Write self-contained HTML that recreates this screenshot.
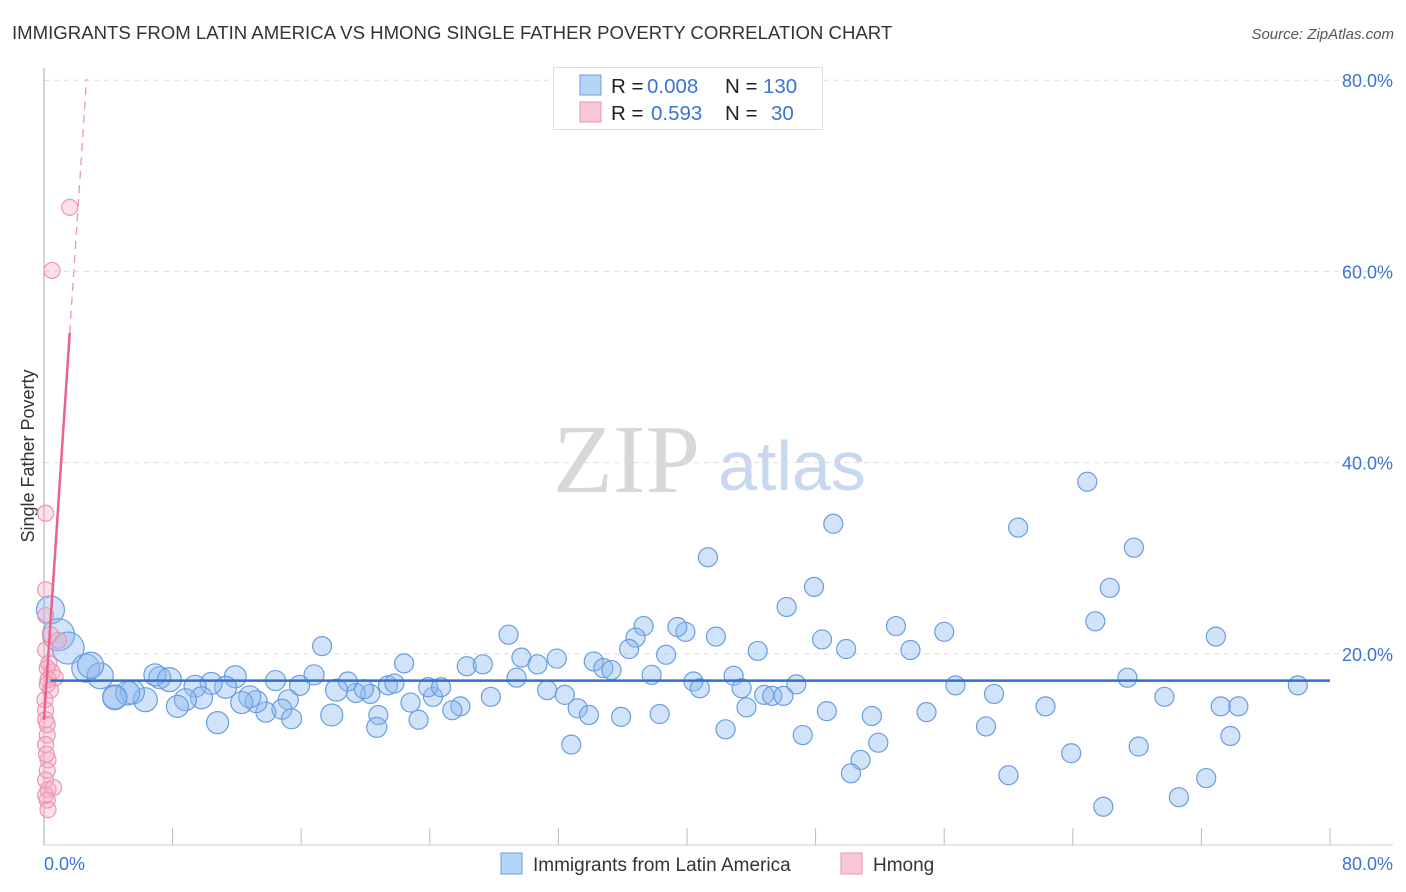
<!DOCTYPE html>
<html><head><meta charset="utf-8">
<style>
body{margin:0;background:#fff;width:1406px;height:892px;overflow:hidden;font-family:"Liberation Sans",sans-serif;}
svg{position:absolute;left:0;top:0}
</style></head>
<body>
<svg width="1406" height="892" viewBox="0 0 1406 892">
<text x="12" y="39" font-size="18.6" fill="#333">IMMIGRANTS FROM LATIN AMERICA VS HMONG SINGLE FATHER POVERTY CORRELATION CHART</text>
<text x="1394" y="39" font-size="15" fill="#555" font-style="italic" text-anchor="end">Source: ZipAtlas.com</text>
<g>
<text x="553" y="492" font-family="Liberation Serif,serif" font-size="98" fill="#d8d8d8">ZIP</text>
<text x="718" y="490" font-size="70" fill="#c8d8f0">atlas</text>
</g>
<g id="grid"></g>
<g id="axes"></g>
<text transform="translate(34,456) rotate(-90)" font-size="18" fill="#333" text-anchor="middle">Single Father Poverty</text>
<g id="pts"></g>
<g id="lines"></g>
<g>
<rect x="553.5" y="67.5" width="269" height="62" fill="#fff" stroke="#ddd"/>
<rect x="580" y="75" width="21" height="20" fill="#b8d4f5" stroke="#6a9de0"/>
<rect x="580" y="102" width="21" height="20" fill="#f9c8d8" stroke="#eb96b2"/>
<text x="611" y="93" font-size="20.5" fill="#222">R = <tspan x="647" fill="#3a74d6">0.008</tspan><tspan x="725">N = </tspan><tspan x="763" fill="#3a74d6">130</tspan></text>
<text x="611" y="120" font-size="20.5" fill="#222">R = <tspan x="651" fill="#3a74d6">0.593</tspan><tspan x="725">N = </tspan><tspan x="771" fill="#3a74d6">30</tspan></text>
</g>
<g>
<rect x="501" y="853" width="21" height="21" fill="#b8d4f5" stroke="#6a9de0"/>
<text x="533" y="871" font-size="19" fill="#333">Immigrants from Latin America</text>
<rect x="841" y="853" width="21" height="21" fill="#f9c8d8" stroke="#eb96b2"/>
<text x="873" y="871" font-size="19" fill="#333">Hmong</text>
</g>
</svg>
<script>
const blueX=[41.3,49.1,64.9,60.6,67.8,66.3,47.9,46.2,65.4,72.9,53.0,56.0,48.4,49.9,53.9,44.4,41.8,39.9,39.4,37.3,36.8,36.4,28.9,29.7,30.7,31.9,34.2,34.8,35.3,38.7,37.8,40.4,40.8,42.9,43.4,46.8,44.8,45.3,46.0,43.7,48.7,51.5,54.9,47.2,42.4,51.9,50.8,50.2,56.7,59.1,58.6,62.3,67.4,69.7,73.2,74.3,78.0,63.9,68.1,73.8,60.0,72.3,70.6,65.9,17.3,22.4,26.3,27.3,29.4,31.3,32.4,33.2,33.9,35.9,38.3,32.8,27.8,24.2,23.9,24.7,25.9,25.4,22.8,23.3,20.8,20.3,19.4,18.9,19.9,21.4,21.8,16.8,15.9,14.4,15.2,14.8,13.8,15.4,17.9,18.2,13.2,12.8,12.3,11.9,11.3,10.4,9.4,9.8,8.8,8.3,7.2,6.9,7.8,6.3,5.5,4.4,5.2,10.8,20.7,0.4,0.9,1.5,2.6,3.5,2.9,4.4];
const blueY=[30.1,33.6,38.0,33.2,31.1,26.9,27.0,24.9,23.4,21.8,22.9,22.3,21.5,20.5,20.4,20.3,21.8,22.3,22.8,22.9,21.7,20.5,22.0,19.6,18.9,19.5,19.2,18.5,18.3,19.9,17.8,17.1,16.4,17.7,16.4,16.8,15.7,15.6,15.6,14.4,14.0,13.5,13.9,11.5,12.1,10.7,8.9,7.5,16.7,15.8,12.4,14.5,17.5,15.5,14.5,14.5,16.7,9.6,10.3,11.4,7.3,7.0,5.0,4.0,20.8,19.0,18.7,18.9,17.5,16.2,15.7,14.3,13.6,13.4,13.7,10.5,15.5,15.5,16.5,16.5,14.5,14.1,14.9,13.1,13.6,15.8,15.9,17.1,16.3,16.7,16.9,17.8,16.7,17.2,15.2,14.2,13.9,13.2,13.6,16.2,15.0,15.5,14.9,17.6,16.5,16.9,16.6,15.4,15.2,14.5,17.5,17.8,17.3,15.2,16.0,15.5,15.9,12.8,12.3,24.6,22.0,20.6,18.5,17.7,18.8,15.4];
const blueR=[9.5,9.5,9.5,9.5,9.5,9.5,9.5,9.5,9.5,9.5,9.5,9.5,9.5,9.5,9.5,9.5,9.5,9.5,9.5,9.5,9.5,9.5,9.5,9.5,9.5,9.5,9.5,9.5,9.5,9.5,9.5,9.5,9.5,9.5,9.5,9.5,9.5,9.5,9.5,9.5,9.5,9.5,9.5,9.5,9.5,9.5,9.5,9.5,9.5,9.5,9.5,9.5,9.5,9.5,9.5,9.5,9.5,9.5,9.5,9.5,9.5,9.5,9.5,9.5,9.5,9.5,9.5,9.5,9.5,9.5,9.5,9.5,9.5,9.5,9.5,9.5,9.5,9.5,9.5,9.5,9.5,9.5,9.5,9.5,9.5,9.5,9.5,9.5,9.5,9.5,9.5,10,10,10,10,10,10,10,11,11,11,11,11,11,11,11,11,11,11,11,11,11,12,12,12,12,12,11,10,14,16,16,14,13,13,12];
const pinkX=[1.6,0.5,0.1,0.1,0.4,0.9,0.2,0.5,0.25,0.7,0.4,0.1,0.1,0.2,0.1,0.25,0.1,0.25,0.6,0.2,0.25,0.06,0.1,0.2,0.2,0.1,0.3,0.15,0.2,0.1];
const pinkY=[66.7,60.1,34.7,26.7,22.0,21.4,18.5,18.1,17.3,17.5,16.2,14.1,13.1,11.5,10.5,8.9,6.8,5.8,6.0,4.7,3.7,15.2,20.4,12.6,7.8,24.0,19.0,9.5,16.8,5.2];
const pinkR=[8,8,8,8,8,8,8,8,8,8,8,8,8,8,8,8,8,8,8,8,8,8,8,8,8,8,8,8,8,8];
const yTicks=[20,40,60,80];
const blueTrend=[17.2,17.2];
const pinkIntercept=13.1, pinkSlope=25.3, pinkSolidEnd=1.6, pinkDashEnd=2.65;
const NS="http://www.w3.org/2000/svg";
const X=v=>44+v*16.075, Y=v=>845-v*9.56;
function mk(tag,attrs,parent){const e=document.createElementNS(NS,tag);for(const k in attrs)e.setAttribute(k,attrs[k]);document.getElementById(parent).appendChild(e);return e;}
yTicks.forEach(t=>{
 const l=mk('line',{x1:44,x2:1393,y1:Y(t),y2:Y(t),stroke:'#ddd','stroke-dasharray':'5,5'},'grid');
 
 
 const tx=mk('text',{x:1393,y:Y(t)+7,'font-size':18,fill:'#3a74d6','text-anchor':'end'},'grid');
 tx.textContent=t.toFixed(1)+'%';
 
 
});
let a=mk('line',{x1:44,x2:44,y1:68,y2:845,stroke:'#aaa'},'axes');


a=mk('line',{x1:44,x2:1393,y1:845,y2:845,stroke:'#ccc'},'axes');


for(let v=8;v<=80;v+=8){
 const t=mk('line',{x1:X(v),x2:X(v),y1:828,y2:845,stroke:'#bbb'},'axes');
 
 
}
let xl=mk('text',{x:44,y:870,'font-size':18,fill:'#3a74d6'},'axes');xl.textContent='0.0%';


xl=mk('text',{x:1393,y:870,'font-size':18,fill:'#3a74d6','text-anchor':'end'},'axes');xl.textContent='80.0%';


blueX.forEach((v,i)=>{
 const c=mk('circle',{cx:X(v),cy:Y(blueY[i]),r:blueR[i],fill:'rgba(140,185,240,0.4)',stroke:'#6a9de0','stroke-width':1.2},'pts');
 
 
});
pinkX.forEach((v,i)=>{
 const c=mk('circle',{cx:X(v),cy:Y(pinkY[i]),r:pinkR[i],fill:'rgba(245,170,195,0.35)',stroke:'#eb96b2','stroke-width':1.2},'pts');
 
 
});
let ln=mk('line',{x1:X(0.4),x2:X(80),y1:Y(blueTrend[0]),y2:Y(blueTrend[1]),stroke:'#2f6fd4','stroke-width':2.5},'lines');


ln=mk('line',{x1:X(0),x2:X(pinkSolidEnd),y1:Y(pinkIntercept),y2:Y(pinkIntercept+pinkSlope*pinkSolidEnd),stroke:'#e8628e','stroke-width':2.5},'lines');


ln=mk('line',{x1:X(pinkSolidEnd),x2:X(pinkDashEnd),y1:Y(pinkIntercept+pinkSlope*pinkSolidEnd),y2:Y(pinkIntercept+pinkSlope*pinkDashEnd),stroke:'#eb96b2','stroke-width':1.3,'stroke-dasharray':'8,6'},'lines');


</script>
</body></html>
